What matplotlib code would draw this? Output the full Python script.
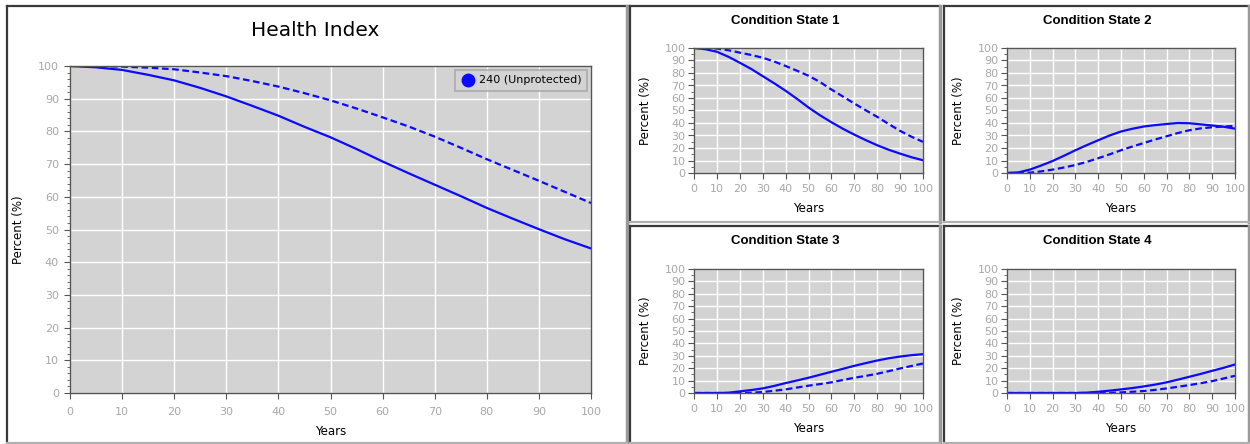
import matplotlib
matplotlib.use("Agg")
import matplotlib.pyplot as plt
from matplotlib.lines import Line2D

W, H = 1250, 444

years = [0, 5, 10, 15, 20, 25, 30, 35, 40, 45, 50, 55, 60, 65, 70, 75, 80, 85, 90, 95, 100]

# Health Index
hi_solid = [100, 99.6, 98.8, 97.3, 95.6, 93.3, 90.7, 87.8, 84.8, 81.4, 78.2, 74.6, 70.8, 67.2, 63.7, 60.2, 56.6, 53.3, 50.1, 47.0, 44.2]
hi_dash = [100, 100, 99.8, 99.5, 99.0, 98.0, 96.9, 95.4, 93.7, 91.7, 89.5, 87.0, 84.3, 81.5, 78.4, 75.0, 71.5, 68.2, 64.9, 61.5, 58.1]

# condition states
cs1_solid = [100, 99.0, 97.0, 93.0, 88.2, 83.2, 77.5, 71.8, 65.8, 59.3, 52.4, 46.2, 40.6, 35.4, 30.7, 26.3, 22.2, 18.6, 15.5, 12.6, 10.2]
cs1_dash = [100, 100, 99.5, 98.2, 96.3, 94.4, 92.2, 89.2, 85.6, 81.8, 77.8, 72.8, 66.8, 61.2, 55.6, 50.2, 44.9, 39.2, 33.7, 29.0, 24.9]
cs2_solid = [0, 0.5, 2.7, 6.0, 9.6, 13.8, 18.2, 22.3, 26.2, 30.0, 33.2, 35.4, 37.2, 38.3, 39.2, 40.0, 39.8, 38.9, 38.0, 37.0, 35.5]
cs2_dash = [0, 0, 0.3, 1.3, 2.7, 4.4, 6.4, 8.9, 11.8, 14.9, 18.2, 21.2, 24.0, 26.8, 29.4, 32.0, 34.2, 35.7, 36.6, 37.2, 37.6]
cs3_solid = [0, 0, 0, 0.2, 1.3, 2.4, 3.7, 5.7, 8.0, 10.1, 12.3, 14.7, 17.1, 19.5, 21.9, 24.1, 26.2, 28.0, 29.4, 30.5, 31.3]
cs3_dash = [0, 0, 0, 0, 0, 0.2, 0.8, 1.8, 2.9, 4.4, 5.9, 7.2, 8.6, 10.5, 12.3, 13.8, 15.5, 17.6, 19.8, 21.8, 23.8]
cs4_solid = [0, 0, 0, 0, 0, 0, 0, 0.3, 1.0, 1.9, 2.9, 4.0, 5.3, 6.8, 8.6, 10.8, 13.1, 15.4, 17.9, 20.3, 23.0]
cs4_dash = [0, 0, 0, 0, 0, 0, 0, 0, 0, 0.1, 0.5, 1.0, 1.6, 2.5, 3.7, 5.0, 6.4, 7.9, 9.6, 11.7, 13.9]

small_titles = ["Condition State 1", "Condition State 2", "Condition State 3", "Condition State 4"]
small_data = [(cs1_solid, cs1_dash), (cs2_solid, cs2_dash), (cs3_solid, cs3_dash), (cs4_solid, cs4_dash)]

BLUE = "#0a0aff"
BG = "#d3d3d3"
TICK = "#a8a8a8"

fig = plt.figure(figsize=(W / 100, H / 100), dpi=100)
fig.patch.set_facecolor("white")


def px_axes(l, t, r, b):
    return fig.add_axes([l / W, 1 - b / H, (r - l) / W, (b - t) / H])


def panel_border(l, t, r, b):
    # dark top/left, gray bottom/right like the web widget frame
    kw = dict(transform=None, lw=1.6)
    fig.add_artist(Line2D([l, r], [H - t, H - t], color="#3a3a3a", **kw))
    fig.add_artist(Line2D([l, l], [H - t, H - b], color="#3a3a3a", **kw))
    fig.add_artist(Line2D([r, r], [H - t, H - b], color="#9a9a9a", lw=2.5, transform=None))
    fig.add_artist(Line2D([l, r], [H - b, H - b], color="#b0b0b0", **kw))


def style_axes(ax, fs, pad, minor):
    ax.set_facecolor(BG)
    ax.set_xlim(0, 100)
    ax.set_ylim(0, 100)
    ax.set_xticks(range(0, 101, 10))
    ax.set_yticks(range(0, 101, 10))
    if minor:
        ax.set_yticks(range(0, 101, minor), minor=True)
    ax.grid(True, color="white", lw=1.0)
    ax.set_axisbelow(True)
    for s in ax.spines.values():
        s.set_color("#555555")
        s.set_linewidth(1.0)
    ax.tick_params(axis="both", which="major", colors="#555555", labelcolor=TICK,
                   labelsize=fs, length=4, width=0.8, direction="out", pad=pad)
    ax.tick_params(axis="y", which="minor", colors="#555555", length=2, width=0.6)
    ax.tick_params(axis="x", pad=pad + 2)


# frames
panel_border(7, 6, 627, 443)
panel_border(630, 6, 940, 222)
panel_border(944, 6, 1249, 222)
panel_border(630, 226, 940, 443)
panel_border(944, 226, 1249, 443)

# main chart
ax = px_axes(70, 66, 591, 393)
style_axes(ax, 8, 4, 2)
ax.plot(years, hi_solid, color=BLUE, lw=1.6)
ax.plot(years, hi_dash, color=BLUE, lw=1.6, dashes=(3, 1.6))
ax.set_xlabel("Years", fontsize=8.5, labelpad=6)
ax.set_ylabel("Percent (%)", fontsize=8.5, labelpad=9)
fig.text(315 / W, 1 - 30 / H, "Health Index", ha="center", va="center", fontsize=14.5)
handle = Line2D([], [], ls="none", marker="o", markersize=9, color=BLUE)
leg = ax.legend([handle], ["240 (Unprotected)"], loc="upper right", fontsize=8,
                frameon=True, fancybox=False, borderaxespad=0.35, handletextpad=0.35,
                handlelength=1.3, borderpad=0.5)
leg.get_frame().set_facecolor(BG)
leg.get_frame().set_edgecolor("#a0a0a0")
leg.get_frame().set_linewidth(1.2)

# small charts
boxes = [(694, 48, 923, 173), (1007, 48, 1235, 173), (694, 269, 923, 393), (1007, 269, 1235, 393)]
title_y = [21, 21, 241, 241]
centers = [785, 1097, 785, 1097]
for i, (box, title, (solid, dash)) in enumerate(zip(boxes, small_titles, small_data)):
    a = px_axes(*box)
    style_axes(a, 8, 2, 5)
    a.plot(years, solid, color=BLUE, lw=1.6)
    a.plot(years, dash, color=BLUE, lw=1.6, dashes=(3, 1.6))
    a.set_xlabel("Years", fontsize=8.5, labelpad=6)
    a.set_ylabel("Percent (%)", fontsize=8.5, labelpad=9)
    fig.text(centers[i] / W, 1 - title_y[i] / H, title, ha="center", va="center",
             fontsize=9.5, fontweight="bold", family="Liberation Sans")

fig.savefig("out.png", dpi=100)
